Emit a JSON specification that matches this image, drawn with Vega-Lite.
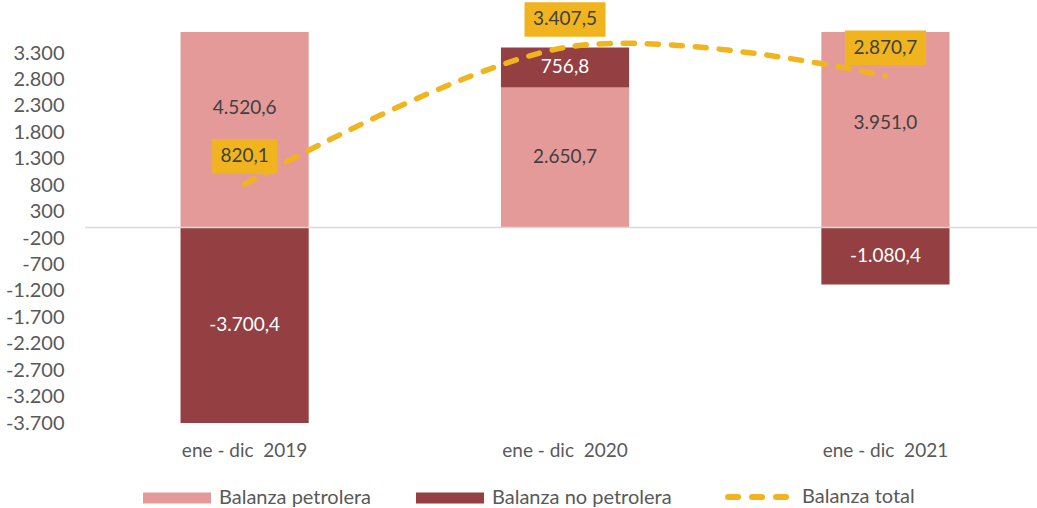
{
  "$schema": "https://vega.github.io/schema/vega-lite/v6.json",
  "width": 952,
  "height": 391,
  "autosize": {"type": "none"},
  "padding": {"left": 85, "top": 32, "right": 0, "bottom": 85},
  "config": {
    "locale": {"number": {"decimal": ",", "thousands": ".", "grouping": [3], "currency": ["", ""], "minus": "-"}},
    "font": "Lato",
    "view": {"stroke": null},
    "axisY": {"labelOverlap": false, "labelBound": false}
  },
  "datasets": {
    "barras": [
      {"periodo": "ene - dic \u00a02019", "serie": "Balanza petrolera", "valor": 4520.6},
      {"periodo": "ene - dic \u00a02019", "serie": "Balanza no petrolera", "valor": -3700.4},
      {"periodo": "ene - dic \u00a02020", "serie": "Balanza petrolera", "valor": 2650.7},
      {"periodo": "ene - dic \u00a02020", "serie": "Balanza no petrolera", "valor": 756.8},
      {"periodo": "ene - dic \u00a02021", "serie": "Balanza petrolera", "valor": 3951.0},
      {"periodo": "ene - dic \u00a02021", "serie": "Balanza no petrolera", "valor": -1080.4}
    ],
    "total": [
      {"periodo": "ene - dic \u00a02019", "total": 820.1},
      {"periodo": "ene - dic \u00a02020", "total": 3407.5},
      {"periodo": "ene - dic \u00a02021", "total": 2870.7}
    ]
  },
  "layer": [
    {
      "data": {"name": "barras"},
      "transform": [
        {"stack": "valor", "groupby": ["periodo"], "sort": [{"field": "serie", "order": "descending"}], "as": ["v0", "v1"]}
      ],
      "mark": {"type": "bar", "clip": true},
      "encoding": {
        "x": {
          "field": "periodo", "type": "nominal", "sort": null, "title": null,
          "scale": {"paddingInner": 0.6, "paddingOuter": 0.2856, "align": 0.522},
          "axis": {"domain": false, "ticks": false, "labelAngle": 0, "labelPadding": 18, "labelFontSize": 19, "labelColor": "#595959"}
        },
        "y": {
          "field": "v1", "type": "quantitative", "title": null,
          "scale": {"domain": [-3700, 3700], "nice": false, "zero": true},
          "axis": {
            "values": [-3700, -3200, -2700, -2200, -1700, -1200, -700, -200, 300, 800, 1300, 1800, 2300, 2800, 3300],
            "tickCount": 20,
            "format": ",.0f", "domain": false, "ticks": false, "grid": false, "labelOverlap": false,
            "labelPadding": 21, "labelFontSize": 20, "labelColor": "#595959"
          }
        },
        "y2": {"field": "v0"},
        "color": {
          "field": "serie", "type": "nominal",
          "scale": {"domain": ["Balanza petrolera", "Balanza no petrolera", "Balanza total"], "range": ["#E59A9A", "#943F42", "#F0B51E"]},
          "legend": {
            "orient": "none", "legendX": 58, "legendY": 455, "direction": "horizontal", "title": null,
            "labelFontSize": 20, "labelColor": "#595959", "labelLimit": 400, "labelOffset": 32, "symbolOffset": 24,
            "columnPadding": 44, "padding": 0,
            "symbolSize": 4624, "symbolType": "M-1,-0.162H1V0.162H-1Z",
            "encode": {
              "symbols": {
                "update": {
                  "shape": {"signal": "datum.value === 'Balanza total' ? 'M-0.94,0H0.94' : 'M-1,-0.162H1V0.162H-1Z'"},
                  "fill": {"signal": "datum.value === 'Balanza total' ? 'transparent' : (datum.value === 'Balanza petrolera' ? '#E59A9A' : '#943F42')"},
                  "stroke": {"signal": "datum.value === 'Balanza total' ? '#F0B51E' : 'transparent'"},
                  "strokeWidth": {"signal": "datum.value === 'Balanza total' ? 6 : 0"},
                  "strokeDash": {"signal": "datum.value === 'Balanza total' ? [10, 14] : [1, 0]"},
                  "strokeCap": {"value": "round"},
                  "opacity": {"value": 1}
                }
              }
            }
          }
        }
      }
    },
    {
      "data": {"values": [{}]},
      "mark": {"type": "rule", "color": "#D9D9D9", "strokeWidth": 1.5},
      "encoding": {"y": {"datum": 0, "type": "quantitative"}}
    },
    {
      "data": {"name": "barras"},
      "transform": [
        {"stack": "valor", "groupby": ["periodo"], "sort": [{"field": "serie", "order": "descending"}], "as": ["v0", "v1"]},
        {"calculate": "(datum.v0 + datum.v1) / 2", "as": "centro"}
      ],
      "mark": {"type": "text", "fontSize": 19, "baseline": "middle", "align": "center"},
      "encoding": {
        "x": {"field": "periodo", "type": "nominal", "sort": null, "title": null},
        "y": {"field": "centro", "type": "quantitative", "title": null},
        "text": {"field": "valor", "type": "quantitative", "format": ",.1f"},
        "color": {"condition": {"test": "datum.serie === 'Balanza petrolera'", "value": "#404040"}, "value": "#FFFFFF"}
      }
    },
    {
      "data": {"name": "total"},
      "mark": {"type": "line", "interpolate": "cardinal", "strokeWidth": 5.5, "strokeDash": [11, 13], "strokeCap": "round"},
      "encoding": {
        "x": {"field": "periodo", "type": "nominal", "sort": null, "title": null},
        "y": {"field": "total", "type": "quantitative", "title": null},
        "color": {"datum": "Balanza total", "type": "nominal"}
      }
    },
    {
      "data": {"name": "total"},
      "mark": {"type": "point", "filled": true, "opacity": 1, "color": "#F0B51E", "strokeWidth": 0, "size": 1190, "yOffset": -28},
      "encoding": {
        "x": {"field": "periodo", "type": "nominal", "sort": null, "title": null},
        "y": {"field": "total", "type": "quantitative", "title": null},
        "shape": {"condition": {"test": "datum.total < 1000", "value": "M-1.88,-1H1.88V1H-1.88Z"}, "value": "M-2.35,-1H2.35V1H-2.35Z"}
      }
    },
    {
      "data": {"name": "total"},
      "mark": {"type": "text", "fontSize": 19, "color": "#404040", "dy": -28, "baseline": "middle", "align": "center"},
      "encoding": {
        "x": {"field": "periodo", "type": "nominal", "sort": null, "title": null},
        "y": {"field": "total", "type": "quantitative", "title": null},
        "text": {"field": "total", "type": "quantitative", "format": ",.1f"}
      }
    }
  ]
}
